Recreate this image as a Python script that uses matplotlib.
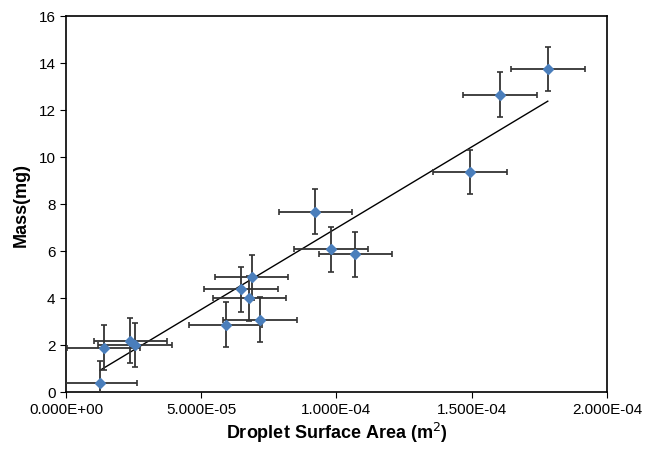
import numpy as np
import matplotlib
matplotlib.use("Agg")
import matplotlib.pyplot as plt
from matplotlib.ticker import FuncFormatter

plt.rcParams['font.family'] = ['Liberation Sans', 'DejaVu Sans']

# droplet surface area (m^2) and mass (mg)
area = [1.26e-5, 1.39e-5, 2.38e-5, 2.55e-5, 5.90e-5, 6.47e-5, 6.86e-5, 6.78e-5,
        7.17e-5, 9.22e-5, 9.79e-5, 1.07e-4, 1.494e-4, 1.604e-4, 1.781e-4]
mass = [0.36, 1.87, 2.17, 1.98, 2.85, 4.35, 4.87, 3.97,
        3.06, 7.66, 6.06, 5.85, 9.35, 12.65, 13.74]
area_err = [1.36e-5] * len(area)
mass_err = [0.95] * len(mass)

# linear trendline as shown in the figure
trend_slope = 69270.0
trend_intercept = 0.033

fig = plt.figure(figsize=(6.65, 4.52), dpi=100)
ax = fig.add_axes([0.0992, 0.1316, 0.8136, 0.8308])

ax.errorbar(area, mass, xerr=area_err, yerr=mass_err, fmt='D', color='#4a7ebb',
            markersize=5, ecolor='#333333', elinewidth=1.3, capsize=2.5, capthick=1.2,
            zorder=3)

xs = np.array([min(area), max(area)])
ax.plot(xs, trend_slope * xs + trend_intercept, color='black', lw=1, zorder=2)

ax.set_xlim(0, 2e-4)
ax.set_ylim(0, 16)
ax.set_xticks([0, 5e-5, 1e-4, 1.5e-4, 2e-4])
ax.set_yticks(range(0, 17, 2))
ax.xaxis.set_major_formatter(FuncFormatter(lambda v, p: f"{v:.3E}"))
ax.tick_params(labelsize=11, length=4, direction='out')
for s in ax.spines.values():
    s.set_linewidth(1.2)

ax.set_xlabel('Droplet Surface Area (m$^2$)', fontsize=13, fontweight='bold', labelpad=3)
ax.set_ylabel('Mass(mg)', fontsize=13, fontweight='bold', labelpad=6)

fig.savefig('out.png', dpi=100)
